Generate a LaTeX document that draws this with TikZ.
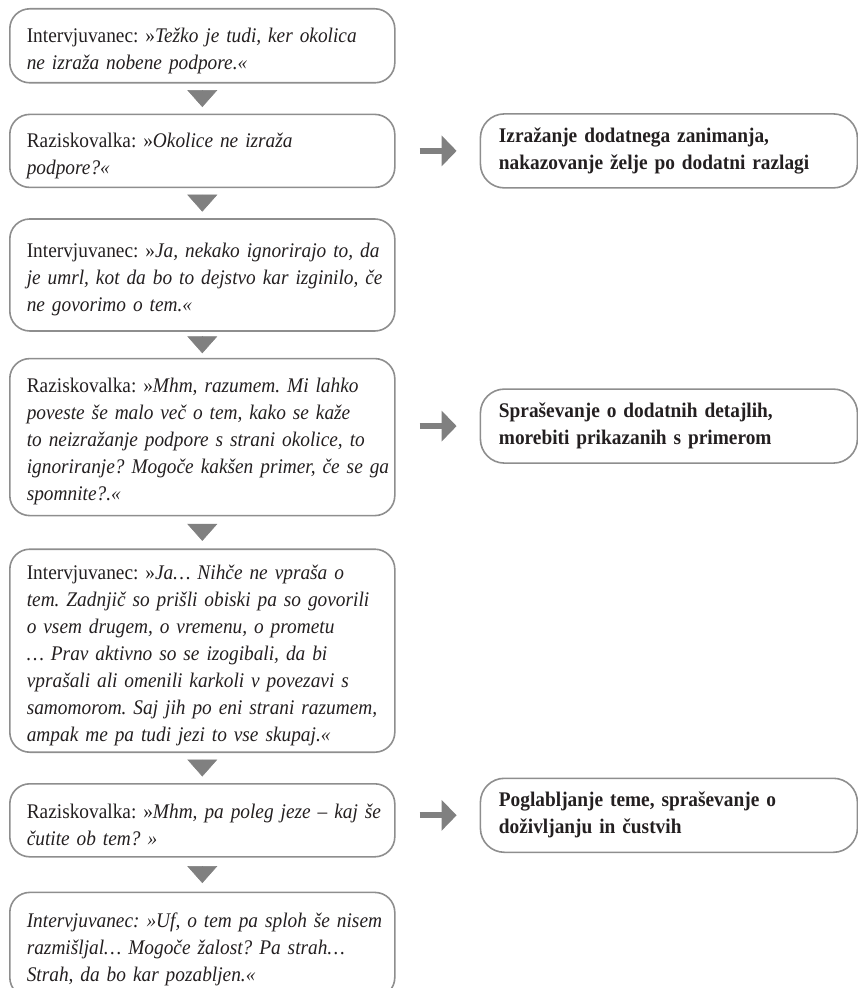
\documentclass[tikz,border=0pt]{standalone}
\usepackage{fontspec}
\setmainfont{Liberation Serif}[FakeStretch=0.93]
\usepackage{tikz}
\usetikzlibrary{arrows.meta,positioning}
\definecolor{boxgray}{HTML}{8E8E8E}
\definecolor{tipgray}{HTML}{808080}
\definecolor{inkblack}{HTML}{231F20}
\newcommand{\oneline}[1]{\mbox{#1}}

\begin{document}
\begin{tikzpicture}[>=Latex,node distance=15pt]
\tikzstyle{talk}=[draw=boxgray,line width=0.8pt,rounded corners=10pt,text width=175.5pt,inner xsep=8.5pt,inner ysep=3pt,align=left,text=inkblack,font=\fontsize{10.4}{13.5}\selectfont\frenchspacing,execute at begin node={\rule{0pt}{12pt}}]
\tikzstyle{note}=[draw=boxgray,line width=0.8pt,rounded corners=12pt,text width=170pt,inner xsep=9.25pt,minimum height=37pt,align=left,text=inkblack,font=\bfseries\fontsize{10.4}{13.5}\selectfont]
\tikzstyle{downtip}=[tipgray,line width=0.3pt,-{Triangle[length=8.5pt,width=15pt]}]
\tikzstyle{sidearrow}=[tipgray,line width=3pt,-{Triangle[length=7.5pt,width=15pt]},shorten <=12pt,shorten >=11.5pt]
\useasboundingbox (0,0) rectangle (428.5pt,-494pt);
% left column: the conversation
\node[talk,minimum height=37pt,anchor=north west] (b1) at (4.5pt,-4pt)
  {\oneline{Intervjuvanec: »\textit{Težko je tudi, ker okolica}}\\
   \oneline{\textit{ne izraža nobene podpore.«}}};
\node[talk,minimum height=36.5pt,below=15pt of b1] (b2)
  {\oneline{Raziskovalka: »\textit{Okolice ne izraža}}\\
   \oneline{\textit{podpore?«}}};
\node[talk,minimum height=56pt,below=15pt of b2] (b3)
  {\oneline{Intervjuvanec: »\textit{Ja, nekako ignorirajo to, da}}\\
   \oneline{\textit{je umrl, kot da bo to dejstvo kar izginilo, če}}\\
   \oneline{\textit{ne govorimo o tem.«}}};
\node[talk,minimum height=78.5pt,below=13pt of b3] (b4)
  {\oneline{Raziskovalka: »\textit{Mhm, razumem. Mi lahko}}\\
   \oneline{\textit{poveste še malo več o tem, kako se kaže}}\\
   \oneline{\textit{to neizražanje podpore s strani okolice, to}}\\
   \oneline{\textit{ignoriranje? Mogoče kakšen primer, če se ga}}\\
   \oneline{\textit{spomnite?.«}}};
\node[talk,minimum height=101.5pt,below=16pt of b4] (b5)
  {\oneline{Intervjuvanec: »\textit{Ja… Nihče ne vpraša o}}\\
   \oneline{\textit{tem. Zadnjič so prišli obiski pa so govorili}}\\
   \oneline{\textit{o vsem drugem, o vremenu, o prometu}}\\
   \oneline{\textit{… Prav aktivno so se izogibali, da bi}}\\
   \oneline{\textit{vprašali ali omenili karkoli v povezavi s}}\\
   \oneline{\textit{samomorom. Saj jih po eni strani razumem,}}\\
   \oneline{\textit{ampak me pa tudi jezi to vse skupaj.«}}};
\node[talk,minimum height=36.5pt,below=15pt of b5] (b6)
  {\oneline{Raziskovalka: »\textit{Mhm, pa poleg jeze – kaj še}}\\
   \oneline{\textit{čutite ob tem? »}}};
\node[talk,minimum height=52.5pt,below=17pt of b6] (b7)
  {\oneline{\textit{Intervjuvanec: »Uf, o tem pa sploh še nisem}}\\
   \oneline{\textit{razmišljal… Mogoče žalost? Pa strah…}}\\
   \oneline{\textit{Strah, da bo kar pozabljen.«}}};
\foreach \a/\b/\s in {b1/b2/3.25,b2/b3/3.25,b3/b4/2.25,b4/b5/3.75,b5/b6/3.25,b6/b7/4.25}
  \draw[downtip,shorten <=\s pt,shorten >=\s pt] (\a) -- (\b);
% right column: what the researcher does
\node[note,right=42pt of b2] (r1)
  {Izražanje dodatnega zanimanja,\\nakazovanje želje po dodatni razlagi};
\node[note,right=42pt of b4,yshift=5.5pt] (r2)
  {Spraševanje o dodatnih detajlih,\\morebiti prikazanih s primerom};
\node[note,right=42pt of b6,yshift=2.5pt] (r3)
  {Poglabljanje teme, spraševanje o\\doživljanju in čustvih};
\draw[sidearrow] (r1.west -| b2.east) -- (r1.west);
\draw[sidearrow] (r2.west -| b4.east) -- (r2.west);
\draw[sidearrow] (r3.west -| b6.east) -- (r3.west);
\end{tikzpicture}
\end{document}
